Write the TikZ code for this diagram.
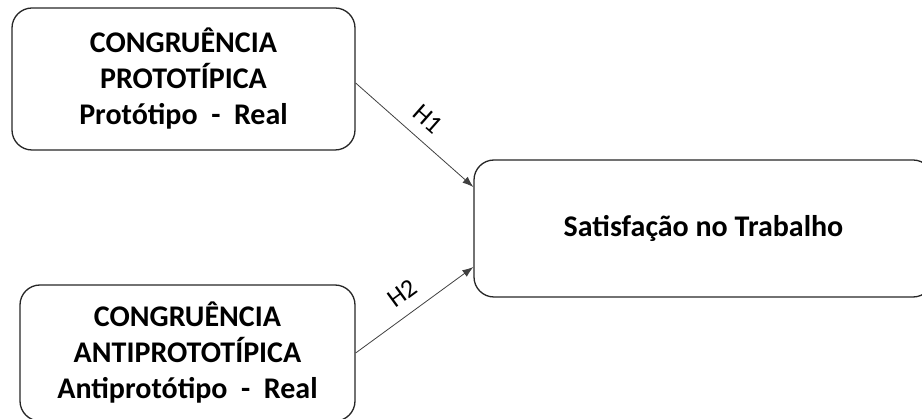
\documentclass[tikz,border=0pt]{standalone}
\usepackage{fontspec}
\setmainfont{Carlito}
\usetikzlibrary{arrows.meta}
\begin{document}
\begin{tikzpicture}[x=1pt,y=-1pt,
  box/.style={draw=black!85, line width=1.3pt, rounded corners=20pt, align=center,
    font=\fontsize{30}{36}\selectfont\bfseries, inner sep=0pt},
  link/.style={draw=black!75, line width=0.8pt, -{Latex[length=11pt,width=8pt]}},
  hlabel/.style={font=\fontsize{26}{28}\selectfont, sloped, above=12pt, pos=0.5, inner sep=0pt}
]
\useasboundingbox (0,0) rectangle (922,419);
\clip (0,0) rectangle (922,419);
\node[box, minimum width=343pt, minimum height=142pt] (proto) at (183.5,79)
  {CONGRUÊNCIA\\PROTOTÍPICA\\Protótipo\ \ -\ \ Real};
\node[box, minimum width=335pt, minimum height=136pt] (anti) at (187.5,353)
  {CONGRUÊNCIA\\ANTIPROTOTÍPICA\\Antiprotótipo\ \ -\ \ Real};
\node[box, minimum width=459pt, minimum height=137pt] (sat) at (703.5,228.5)
  {Satisfação no Trabalho};
\draw[link] (proto.east |- 0,83) -- node[hlabel] (h1) {H1} (sat.west |- 0,187);
\draw[link] (anti.east) -- node[hlabel] (h2) {H2} (sat.west |- 0,267);
\end{tikzpicture}
\end{document}
